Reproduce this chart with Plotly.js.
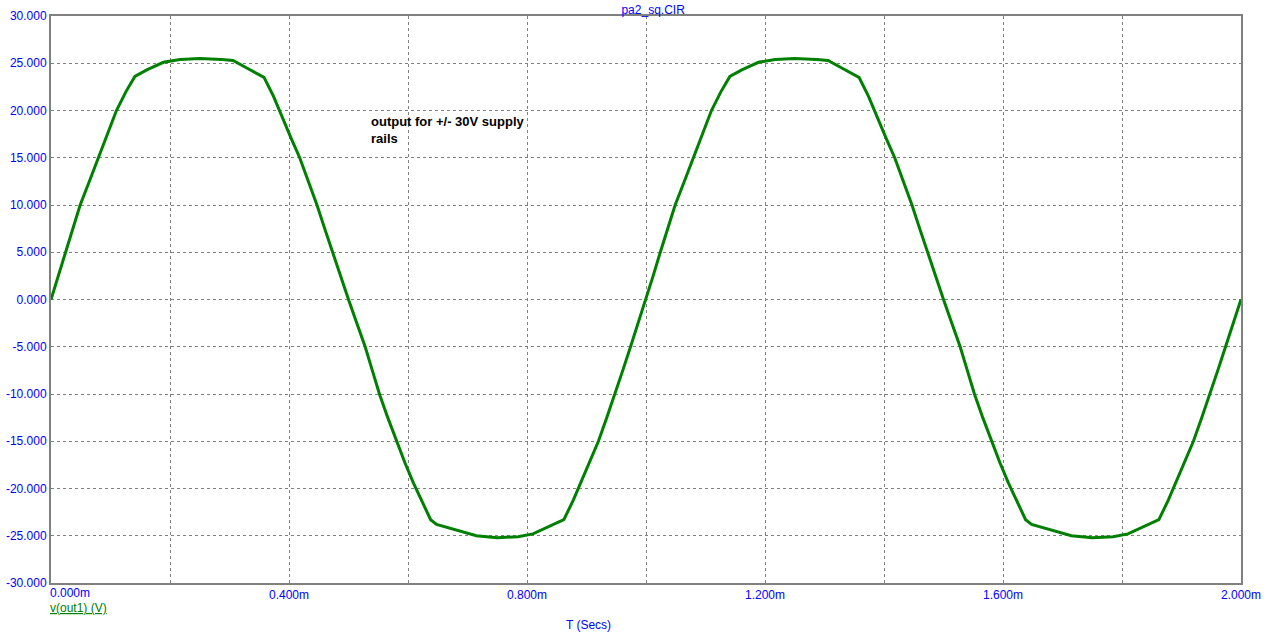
<!DOCTYPE html>
<html>
<head>
<meta charset="utf-8">
<script src="https://cdn.plot.ly/plotly-3.0.1.min.js"></script>
<style>html,body{margin:0;padding:0;background:#fff;}#chart{width:1276px;height:638px;}</style>
</head>
<body>
<div id="chart"></div>
<script>
// time in ms, voltage in V
const timeMs = [
  0.000, 0.012, 0.024, 0.036, 0.049, 0.065, 0.080, 0.095, 0.110, 0.126, 0.141, 0.161, 0.189, 0.217, 0.250, 0.287,
  0.306, 0.329, 0.358, 0.374, 0.390, 0.404, 0.418, 0.433, 0.447, 0.460, 0.473, 0.487, 0.500, 0.514, 0.528, 0.540,
  0.552, 0.566, 0.581, 0.595, 0.609, 0.625, 0.638, 0.648, 0.676, 0.715, 0.750, 0.785, 0.810, 0.844, 0.862, 0.878,
  0.893, 0.906, 0.920, 0.934, 0.948, 0.961, 0.974, 0.987,
  1.000, 1.012, 1.024, 1.036, 1.049, 1.065, 1.080, 1.095, 1.110, 1.126, 1.141, 1.161, 1.189, 1.217, 1.250, 1.287,
  1.306, 1.329, 1.358, 1.374, 1.390, 1.404, 1.418, 1.433, 1.447, 1.460, 1.473, 1.487, 1.500, 1.514, 1.528, 1.540,
  1.552, 1.566, 1.581, 1.595, 1.609, 1.625, 1.638, 1.648, 1.676, 1.715, 1.750, 1.785, 1.810, 1.844, 1.862, 1.878,
  1.893, 1.906, 1.920, 1.934, 1.948, 1.961, 1.974, 1.987, 2.000
];
const vOut1 = [
  0, 2.5, 5, 7.5, 10, 12.6, 15, 17.6, 20, 22.0, 23.6, 24.3, 25.1, 25.4, 25.5, 25.4,
  25.3, 24.5, 23.5, 21.5, 19.0, 17.0, 15, 12.5, 10, 7.5, 5, 2.5, 0, -2.5, -5, -7.5,
  -10, -12.5, -15, -17.3, -19.4, -21.6, -23.3, -23.8, -24.3, -25.0, -25.2, -25.1, -24.8, -23.8, -23.3, -21.2,
  -19, -17.2, -15, -12.5, -10, -7.5, -5, -2.5,
  0, 2.5, 5, 7.5, 10, 12.6, 15, 17.6, 20, 22.0, 23.6, 24.3, 25.1, 25.4, 25.5, 25.4,
  25.3, 24.5, 23.5, 21.5, 19.0, 17.0, 15, 12.5, 10, 7.5, 5, 2.5, 0, -2.5, -5, -7.5,
  -10, -12.5, -15, -17.3, -19.4, -21.6, -23.3, -23.8, -24.3, -25.0, -25.2, -25.1, -24.8, -23.8, -23.3, -21.2,
  -19, -17.2, -15, -12.5, -10, -7.5, -5, -2.5, 0
];
const xTickVals = [0, 0.2, 0.4, 0.6, 0.8, 1.0, 1.2, 1.4, 1.6, 1.8, 2.0];
const xTickText = ['', '', '0.400m', '', '0.800m', '', '1.200m', '', '1.600m', '', '2.000m'];
const yTickVals = [-30, -25, -20, -15, -10, -5, 0, 5, 10, 15, 20, 25, 30];
const yTickText = ['-30.000', '-25.000', '-20.000', '-15.000', '-10.000', '-5.000', '0.000', '5.000', '10.000', '15.000', '20.000', '25.000', '30.000'];

const blue = '#0000ff';
const green = '#008000';
const grid = '#808080';
const fontFam = 'Liberation Sans, Arial, sans-serif';

const trace = {
  x: timeMs, y: vOut1, type: 'scatter', mode: 'lines',
  line: {color: green, width: 3}, hoverinfo: 'skip'
};

const layout = {
  width: 1276, height: 638,
  margin: {l: 51, r: 35, t: 16, b: 55},
  paper_bgcolor: '#ffffff', plot_bgcolor: '#ffffff',
  showlegend: false,
  font: {family: fontFam, size: 12, color: blue},
  title: {text: 'pa2_sq.CIR', font: {family: fontFam, size: 12, color: blue}, x: 0.506, xref: 'paper', y: 0.985, yanchor: 'middle'},
  xaxis: {
    range: [0, 2.0], tickvals: xTickVals, ticktext: xTickText, ticks: '',
    showgrid: true, gridcolor: grid, gridwidth: 1, griddash: '3px,3px',
    showline: true, linecolor: grid, linewidth: 2, mirror: true, zeroline: false,
    tickfont: {family: fontFam, size: 12, color: blue}, fixedrange: true
  },
  yaxis: {
    range: [-30, 30], tickvals: yTickVals, ticktext: yTickText, ticks: '',
    showgrid: true, gridcolor: grid, gridwidth: 1, griddash: '3px,3px',
    showline: true, linecolor: grid, linewidth: 2, mirror: true, zeroline: false,
    tickfont: {family: fontFam, size: 12, color: blue}, fixedrange: true
  },
  annotations: [
    {x: 0, y: 0, xref: 'x', yref: 'paper', text: '0.000m', showarrow: false, xanchor: 'left', yanchor: 'top', yshift: -1, xshift: -3,
     font: {family: fontFam, size: 12, color: blue}},
    {x: 0, y: 0, xref: 'x', yref: 'paper', text: '<u>v(out1) (V)</u>', showarrow: false, xanchor: 'left', yanchor: 'top', yshift: -16, xshift: -3,
     font: {family: fontFam, size: 12, color: green}},
    {x: 0.452, y: 0, xref: 'paper', yref: 'paper', text: 'T (Secs)', showarrow: false, xanchor: 'center', yanchor: 'top', yshift: -33,
     font: {family: fontFam, size: 12, color: blue}},
    {x: 0.534, y: 19.8, xref: 'x', yref: 'y', text: '<b>output for +/- 30V supply<br>rails</b>', showarrow: false, xanchor: 'left', yanchor: 'top', align: 'left',
     font: {family: fontFam, size: 13, color: '#000000'}}
  ]
};

Plotly.newPlot('chart', [trace], layout, {displayModeBar: false, staticPlot: true});
</script>
</body>
</html>
